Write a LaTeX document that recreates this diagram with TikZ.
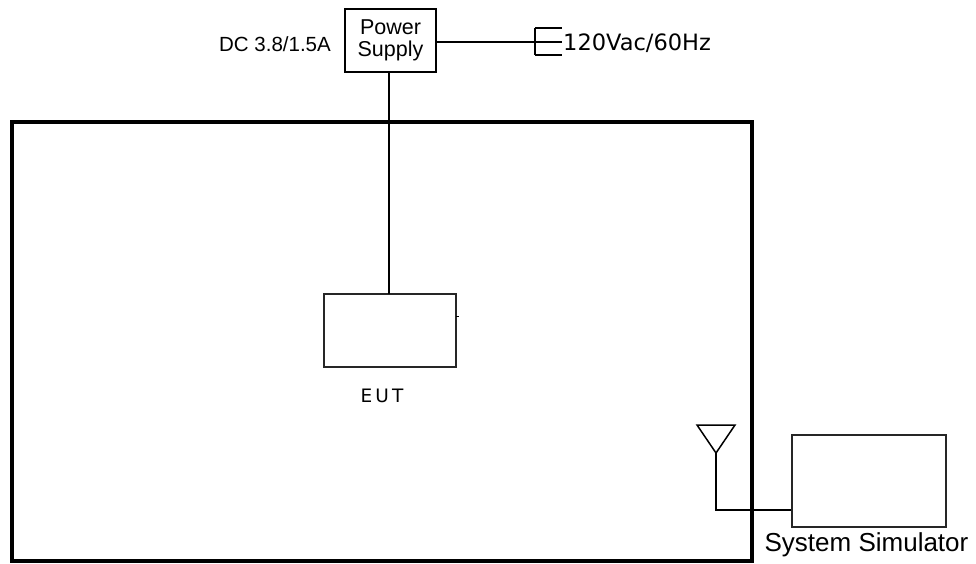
\documentclass[tikz,border=0pt]{standalone}
\usepackage{fontspec}
\setmainfont{Liberation Sans}
\newfontfamily\verd{DejaVu Sans}
\begin{document}
\begin{tikzpicture}[x=1pt,y=-1pt,
  thinline/.style={draw=black,line width=1.5pt},
  boxst/.style={draw=black!85,line width=1.8pt,fill=white,inner sep=0pt}]
\useasboundingbox (0,0) rectangle (976,563);
\fill[white] (0,0) rectangle (976,563);
% chamber
\draw[line width=4pt] (12,122) rectangle (752,561);
% power supply
\node[boxst,draw=black,line width=1.5pt,minimum width=91pt,minimum height=63pt,align=center,font=\fontsize{21.5}{22}\selectfont] (ps) at (390.5,40.5) {Power\\Supply};
\node[anchor=east,inner sep=0pt,font=\fontsize{20.5}{22}\selectfont] (dc) at (331,44) {DC 3.8/1.5A};
% plug
\coordinate (pl) at (535,42);
\coordinate (plt) at (535,28);
\coordinate (plb) at (535,55);
\draw[thinline] (ps.east |- pl) -- (pl);
\draw[thinline] (plt) -- (plb);
\draw[thinline] (plt) -- ++(27,0);
\draw[thinline] (pl) -- ++(27,0);
\draw[thinline] (plb) -- ++(27,0);
\node[anchor=west,inner sep=0pt,font=\verd\fontsize{22.5}{26}\selectfont] (ac) at (563,43) {120Vac/60Hz};
% EUT
\node[boxst,minimum width=132pt,minimum height=73pt] (eut) at (390,330.5) {};
\draw[thinline] (ps.south -| 389,0) -- (389,294);
\draw[line width=1pt] (456,316) -- (459,316);
\node[font=\verd\fontsize{18.5}{20}\selectfont] (eutl) at (382,396) {E\,U\,T};
% antenna
\coordinate (at1) at (697,425);
\coordinate (at2) at (735,425);
\coordinate (ap) at (716,453);
\coordinate (ac2) at (716,510);
\draw[thinline,line join=miter] (at1) -- (at2) -- (ap) -- cycle;
\node[boxst,draw=black!85,minimum width=154pt,minimum height=92pt] (sim) at (869,481) {};
\draw[thinline] (ap) -- (ac2) -- (sim.west |- ac2);
\node[font=\fontsize{26}{28}\selectfont,inner sep=0pt] (siml) at (866.5,545) {System Simulator};
\end{tikzpicture}
\end{document}
